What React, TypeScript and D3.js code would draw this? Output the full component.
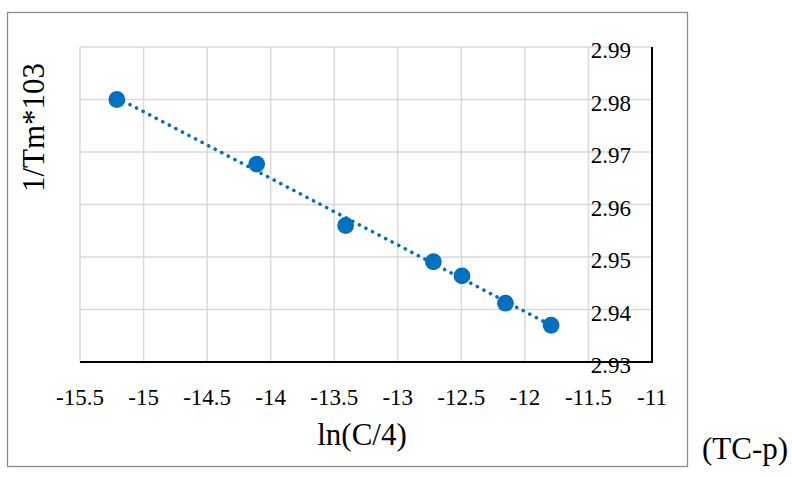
import React from "react";
import * as d3 from "d3";

// ln(C/4) values and the corresponding 1/Tm*10^3 values
const lnC4: number[] = [-15.21, -14.11, -13.41, -12.72, -12.495, -12.153, -11.794];
const invTm: number[] = [2.98, 2.9677, 2.956, 2.9491, 2.9464, 2.9412, 2.937];

const xTicks: number[] = [-15.5, -15, -14.5, -14, -13.5, -13, -12.5, -12, -11.5, -11];
const yTicks: number[] = [2.93, 2.94, 2.95, 2.96, 2.97, 2.98, 2.99];

const xTitle = "ln(C/4)";
const yTitle = "1/Tm*103";
const noteText = "(TC-p)";

const W = 792;
const H = 477;
const plot = { left: 80, right: 652, top: 47, bottom: 362 };
const FONT = "Liberation Serif, Times New Roman, DejaVu Serif, serif";
const BLUE = "#0070C0";

const txt = (size: number): React.CSSProperties => ({ fontFamily: FONT, fontSize: size });

export default function App() {
  const x = d3.scaleLinear().domain([-15.5, -11]).range([plot.left, plot.right]);
  const y = d3.scaleLinear().domain([2.93, 2.99]).range([plot.bottom, plot.top]);

  // least-squares linear trend
  const n = lnC4.length;
  const mx = d3.mean(lnC4)!;
  const my = d3.mean(invTm)!;
  let sxy = 0;
  let sxx = 0;
  for (let i = 0; i < n; i++) {
    sxy += (lnC4[i] - mx) * (invTm[i] - my);
    sxx += (lnC4[i] - mx) ** 2;
  }
  const slope = sxy / sxx;
  const icpt = my - slope * mx;
  const [x0, x1] = d3.extent(lnC4) as [number, number];
  const trend = d3.line<number>()
    .x((v) => x(v))
    .y((v) => y(icpt + slope * v))([x0, x1]);

  return (
    <svg
      width={W}
      height={H}
      style={{ position: "fixed", left: 0, top: 0, background: "#fff" }}
    >
      <rect x={0} y={0} width={W} height={H} fill="#fff" />
      <rect x={7.5} y={12.5} width={680} height={454} fill="#fff" stroke="#8a8a8a" strokeWidth={1.3} />

      {/* grid */}
      {xTicks.map((t) => (
        <line key={"gx" + t} x1={x(t)} x2={x(t)} y1={plot.top} y2={plot.bottom} stroke="#d9d9d9" strokeWidth={1.5} />
      ))}
      {yTicks.map((t) => (
        <line key={"gy" + t} x1={plot.left} x2={plot.right} y1={y(t)} y2={y(t)} stroke="#d9d9d9" strokeWidth={1.5} />
      ))}

      {/* axes */}
      <line x1={plot.left} x2={plot.right + 1} y1={plot.bottom} y2={plot.bottom} stroke="#000" strokeWidth={2} />
      <line x1={plot.right} x2={plot.right} y1={plot.top} y2={plot.bottom} stroke="#000" strokeWidth={2} />

      {/* trendline */}
      <path
        d={trend ?? ""}
        fill="none"
        stroke={BLUE}
        strokeWidth={3.6}
        strokeLinecap="round"
        strokeDasharray="0.1 7.3"
      />

      {/* data points */}
      {lnC4.map((v, i) => (
        <circle key={"p" + i} cx={x(v)} cy={y(invTm[i])} r={8.4} fill={BLUE} />
      ))}

      {/* tick labels */}
      {xTicks.map((t) => (
        <text key={"tx" + t} x={x(t)} y={405} textAnchor="middle" style={txt(23)} fill="#000">
          {String(t)}
        </text>
      ))}
      {yTicks.map((t) => (
        <text key={"ty" + t} x={631} y={y(t) + 11} textAnchor="end" style={txt(23)} fill="#000">
          {t.toFixed(2)}
        </text>
      ))}

      {/* titles */}
      <text x={362} y={445} textAnchor="middle" style={txt(31)} fill="#000">
        {xTitle}
      </text>
      <text
        transform={`translate(44,127.5) rotate(-90)`}
        textAnchor="middle"
        style={txt(31)}
        fill="#000"
      >
        {yTitle}
      </text>
      <text x={702} y={459} style={txt(31)} fill="#000">
        {noteText}
      </text>
    </svg>
  );
}
